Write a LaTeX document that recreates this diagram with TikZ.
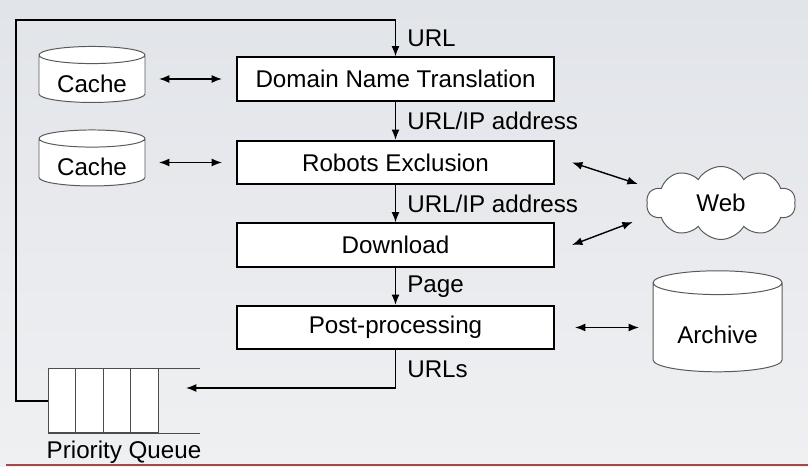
\documentclass[tikz,border=0pt]{standalone}
\usepackage{fontspec}
\setmainfont{Liberation Sans}
\usetikzlibrary{arrows.meta, shapes.geometric, shapes.symbols}

\begin{document}
\begin{tikzpicture}[
    font=\fontsize{17.2}{20}\selectfont,
    stage/.style={draw, line width=1.4pt, fill=white, minimum width=7.925cm, minimum height=1.08cm},
    store/.style={cylinder, shape border rotate=90, draw=black!65, line width=0.7pt, fill=white, inner sep=0pt},
    link/.style={line width=1pt, {Latex[length=0.26cm,width=0.2cm]}-{Latex[length=0.26cm,width=0.2cm]}},
    flow/.style={line width=1pt, -{Latex[length=0.26cm,width=0.2cm]}},
    lbl/.style={right, xshift=0.16cm},
    cell/.style={draw=black!70, line width=0.7pt, fill=white, minimum width=0.6875cm, minimum height=1.6cm, inner sep=0pt},
  ]
  % background
  \useasboundingbox (0,0) rectangle (20.2,11.675);
  \shade[top color={rgb,255:red,225;green,228;blue,233}, bottom color={rgb,255:red,239;green,240;blue,242}] (0,0) rectangle (20.2,11.675);
  \draw[red!55!black, line width=1.6pt, opacity=0.7] (0.15,0.05) -- (20.2,0.05);

  % pipeline stages
  \node[stage] (dnt) at (9.8875,9.7) {Domain Name Translation};
  \node[stage] (robots) at (9.8875,7.6125) {Robots Exclusion};
  \node[stage] (download) at (9.8875,5.55) {Download};
  \node[stage] (post) at (9.8875,3.4875) {Post-processing};

  % stores
  \node[store, minimum width=2.65cm, minimum height=1.4cm, aspect=0.245] (cacheA) at (2.3,9.7) {\phantom{Cache}};
  \node (cacheAtext) at ([yshift=-0.12cm]cacheA.center) {Cache};
  \node[store, minimum width=2.65cm, minimum height=1.4cm, aspect=0.245] (cacheB) at (2.3,7.6125) {\phantom{Cache}};
  \node (cacheBtext) at ([yshift=-0.12cm]cacheB.center) {Cache};
  \node[store, minimum width=3.225cm, minimum height=2.525cm, aspect=0.295] (archive) at (17.94,3.4875) {\phantom{Archive}};
  \node (archivetext) at ([yshift=-0.19cm]archive.center) {Archive};
  \node[cloud, draw=black!65, fill=white, line width=0.7pt, cloud puffs=10, cloud puff arc=120,
        cloud ignores aspect, minimum width=3.725cm, minimum height=1.825cm] (web) at (18.025,6.6) {Web};

  % priority queue
  \foreach \i in {1,...,4}
    \node[cell] (q\i) at ({1.54375+(\i-1)*0.6875},1.65) {};
  \draw[black!70, line width=0.7pt] (q1.north west) -- ++(3.8,0);
  \draw[black!70, line width=0.7pt] (q1.south west) -- ++(3.8,0);
  \node (pqlabel) at (3.1,0.375) {Priority Queue};
  \coordinate (qin) at (4.65,1.975);
  \coordinate (loop) at (0.4,11.175);

  % stage to stage
  \draw[flow] (q1.west) -| (loop) -| node[lbl, pos=0.75] {URL} (dnt.north);
  \draw[flow] (dnt) -- node[lbl] {URL/IP address} (robots);
  \draw[flow] (robots) -- node[lbl] {URL/IP address} (download);
  \draw[flow] (download) -- node[lbl] {Page} (post);
  \draw[flow] (post.south) |- node[lbl, pos=0.25] {URLs} (qin);

  % side links
  \draw[link] ([xshift=1.675cm]cacheA.center) -- ([xshift=-0.35cm]dnt.west);
  \draw[link] ([xshift=1.675cm]cacheB.center) -- ([xshift=-0.35cm]robots.west);
  \draw[link] ([xshift=0.425cm]robots.east) -- ([shift={(-0.225cm,0.475cm)}]web.west);
  \draw[link] ([xshift=0.425cm]download.east) -- ([shift={(-0.35cm,-0.475cm)}]web.west);
  \draw[link] ([xshift=0.5cm]post.east) -- ([xshift=-1.965cm]archive.center);
\end{tikzpicture}
\end{document}
